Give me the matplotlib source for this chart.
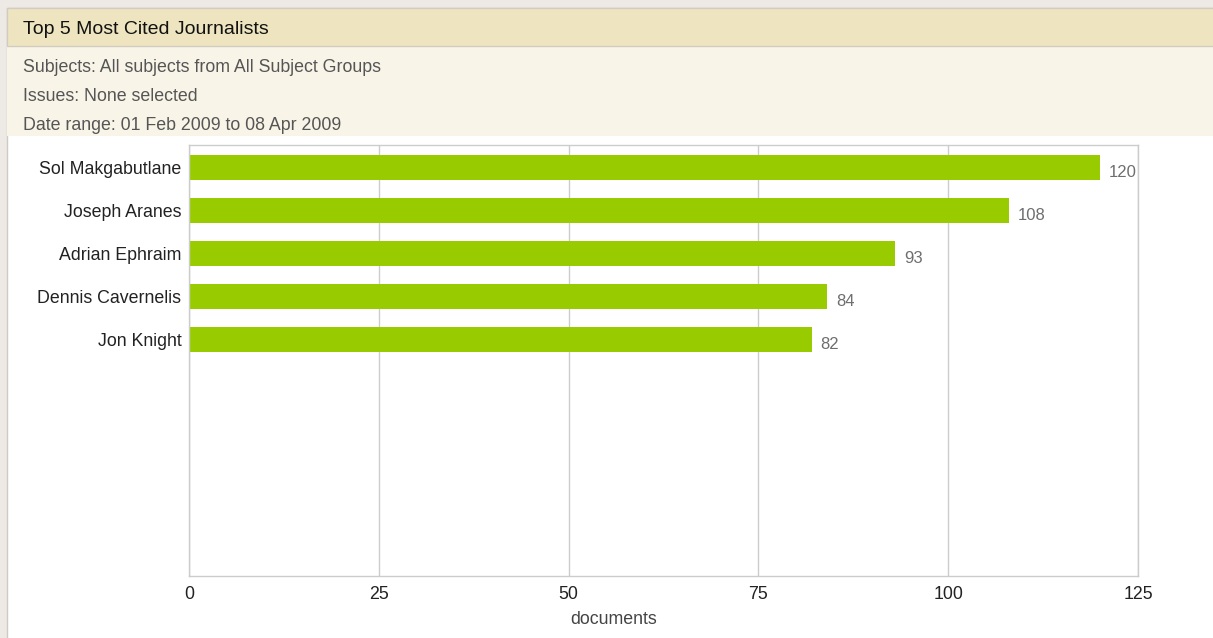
import matplotlib
matplotlib.use("Agg")
import matplotlib.pyplot as plt
from matplotlib.patches import Rectangle

# data
names = ["Sol Makgabutlane", "Joseph Aranes", "Adrian Ephraim", "Dennis Cavernelis", "Jon Knight"]
counts = [120, 108, 93, 84, 82]
xticks = [0, 25, 50, 75, 100, 125]
title = "Top 5 Most Cited Journalists"
info_lines = ["Subjects: All subjects from All Subject Groups",
              "Issues: None selected",
              "Date range: 01 Feb 2009 to 08 Apr 2009"]

plt.rcParams['font.family'] = ['Liberation Sans', 'DejaVu Sans']

W, H = 1213, 638
fig = plt.figure(figsize=(W / 100, H / 100), dpi=100)
fig.patch.set_facecolor("#ede9e4")


def fx(px):
    return px / W


def fy(py):
    # py measured from the top
    return 1 - py / H


def band(x0, y0, x1, y1, color, edge=None):
    r = Rectangle((fx(x0), fy(y1)), fx(x1 - x0), (y1 - y0) / H,
                  transform=fig.transFigure, facecolor=color,
                  edgecolor=edge if edge else "none", linewidth=1, zorder=-10)
    fig.patches.append(r)


# panel: white body, info band, header band
band(7, 8, W + 2, H + 2, "white", "#cfcac4")
band(7, 46, W + 2, 136, "#f8f4e8")
band(7, 8, W + 2, 46, "#eee5c0", "#d2ccc0")

fig.text(fx(23), fy(29), title, fontsize=14.0, color="#111111", va="center")
for i, line in enumerate(info_lines):
    fig.text(fx(23), fy(68 + i * 28.5), line, fontsize=12.8, color="#555555", va="center")

# plot area
ax = fig.add_axes([fx(189), fy(576), fx(1138 - 189), (576 - 145) / H])
ypos = list(range(len(names)))
ax.barh(ypos, counts, height=0.59, color="#99cc00", zorder=2)
for y, v in zip(ypos, counts):
    ax.text(v + 1.2, y + 0.12, str(v), fontsize=12, color="#6e6e6e", va="center", ha="left")

ax.set_xlim(0, 125)
ax.set_ylim(9.5, -0.52)
ax.set_xticks(xticks)
ax.set_xticklabels([str(t) for t in xticks], fontsize=12.8, color="#222222")
ax.set_yticks(ypos)
ax.set_yticklabels(names, fontsize=12.8, color="#222222")
ax.tick_params(axis="both", length=0)
ax.tick_params(axis="x", pad=7)
ax.tick_params(axis="y", pad=5.5)
ax.grid(axis="x", color="#cccccc", linewidth=1, zorder=0)
ax.set_axisbelow(True)
for s in ax.spines.values():
    s.set_color("#cccccc")
    s.set_linewidth(1)

# axis title sits left of the axes centre in the original
fig.text(fx(614), fy(620), "documents", fontsize=12.8, color="#444444", ha="center", va="center")

fig.savefig("out.png", dpi=100)
